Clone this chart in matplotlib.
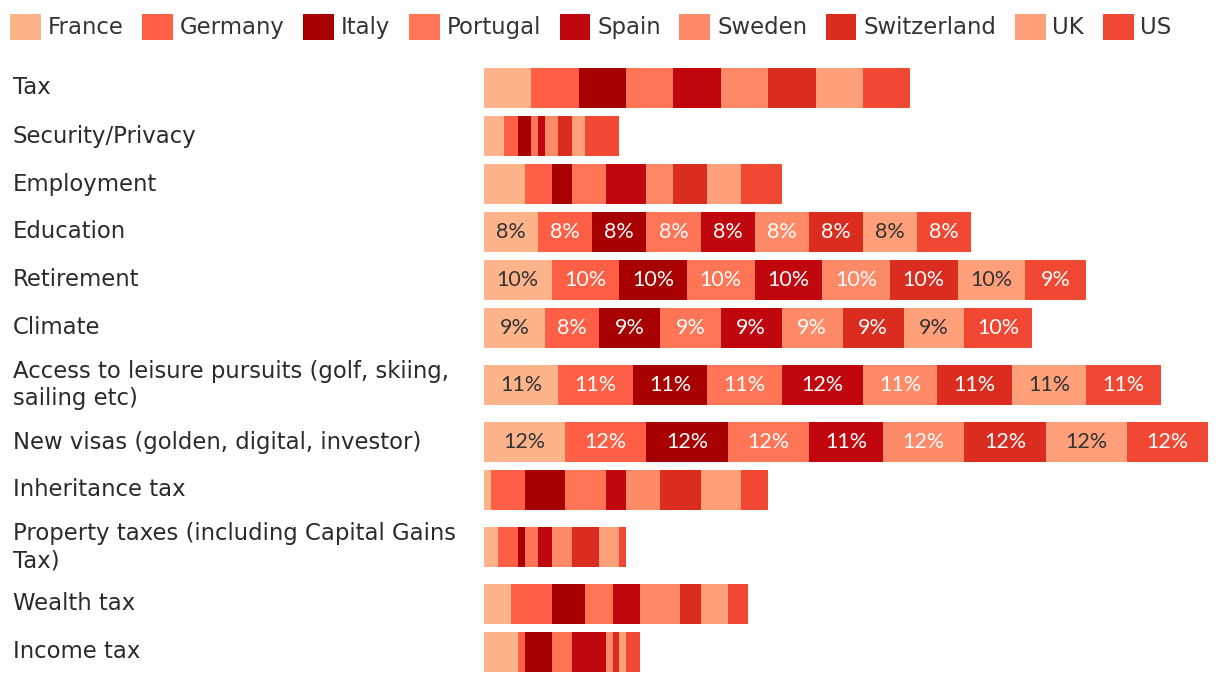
import matplotlib.pyplot as plt
from matplotlib import transforms
import numpy as np

plt.rcParams['font.family'] = ['DejaVu Sans']

countries = ["France", "Germany", "Italy", "Portugal", "Spain", "Sweden",
             "Switzerland", "UK", "US"]
colors = ["#FEB48B", "#FF5F45", "#A80000", "#FF7555", "#C1070E", "#FF8A68",
          "#DA2D1F", "#FFA07A", "#F04832"]
text_colors = ["#333333", "white", "white", "white", "white", "white",
               "white", "#333333", "white"]

categories = ["Tax", "Security/Privacy", "Employment", "Education", "Retirement",
              "Climate", "Access to leisure pursuits (golf, skiing,\nsailing etc)",
              "New visas (golden, digital, investor)", "Inheritance tax",
              "Property taxes (including Capital Gains\nTax)", "Wealth tax",
              "Income tax"]

# rows = categories, columns = countries (percent)
values = np.array([
    [7, 7, 7, 7, 7, 7, 7, 7, 7],
    [3, 2, 2, 1, 1, 2, 2, 2, 5],
    [6, 4, 3, 5, 6, 4, 5, 5, 6],
    [8, 8, 8, 8, 8, 8, 8, 8, 8],
    [10, 10, 10, 10, 10, 10, 10, 10, 9],
    [9, 8, 9, 9, 9, 9, 9, 9, 10],
    [11, 11, 11, 11, 12, 11, 11, 11, 11],
    [12, 12, 12, 12, 11, 12, 12, 12, 12],
    [1, 5, 6, 6, 3, 5, 6, 6, 4],
    [2, 3, 1, 2, 2, 3, 4, 3, 1],
    [4, 6, 5, 4, 4, 6, 3, 4, 3],
    [5, 1, 4, 3, 5, 1, 1, 1, 2],
])
labelled = ["Education", "Retirement", "Climate",
            "Access to leisure pursuits (golf, skiing,\nsailing etc)",
            "New visas (golden, digital, investor)"]

# row slots: two-line labels get a taller slot
slot = np.array([1 + 0.375 * c.count("\n") for c in categories])
y = np.cumsum(slot) - slot / 2
total = slot.sum()

fig = plt.figure(figsize=(12.2, 6.82), dpi=100)
ax = fig.add_axes([484 / 1220, 6 / 682, 724 / 1220, total * 48 / 682])

left = np.zeros(len(categories))
for j, c in enumerate(countries):
    ax.barh(y, values[:, j], left=left, height=40 / 48, color=colors[j], label=c)
    for i, cat in enumerate(categories):
        if cat in labelled:
            ax.text(left[i] + values[i, j] / 2, y[i], f"{values[i, j]}%",
                    ha="center", va="center", fontsize=15.5,
                    family="Lato", color=text_colors[j])
    left += values[:, j]

ax.set_xlim(0, values.sum(axis=1).max())
ax.set_ylim(total, 0)
ax.axis("off")

trans = transforms.blended_transform_factory(fig.transFigure, ax.transData)
for i, cat in enumerate(categories):
    ax.text(13 / 1220, y[i], cat, transform=trans, ha="left", va="center",
            fontsize=16.4, color="#2a2a2a", linespacing=1.27)

fig.legend(loc="upper left", bbox_to_anchor=(10 / 1220, 668 / 682), ncol=9,
           frameon=False, fontsize=16.4, handlelength=1.35, handleheight=1.35,
           handletextpad=0.3, columnspacing=0.82, borderaxespad=0,
           borderpad=0, labelcolor="#333333")

fig.savefig("out.png", dpi=100)
